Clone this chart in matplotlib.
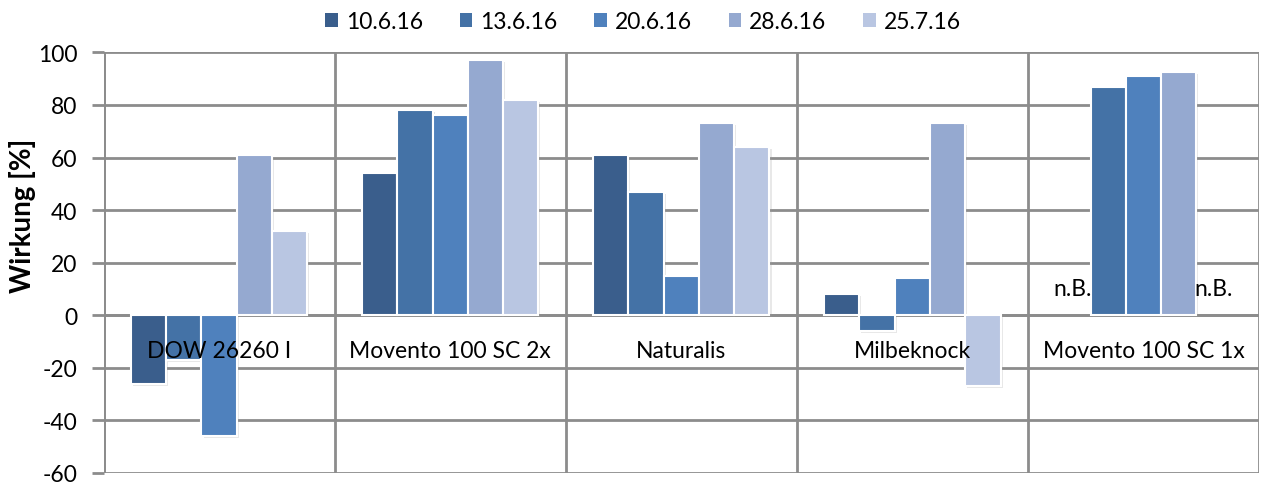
import numpy as np
import matplotlib
matplotlib.use("Agg")
import matplotlib.pyplot as plt
from matplotlib.patches import Patch
import matplotlib.patheffects as pe

plt.rcParams['font.family'] = ['Lato', 'DejaVu Sans']
plt.rcParams['axes.unicode_minus'] = False

categories = ["DOW 26260 I", "Movento 100 SC 2x", "Naturalis", "Milbeknock", "Movento 100 SC 1x"]
dates = ["10.6.16", "13.6.16", "20.6.16", "28.6.16", "25.7.16"]
nan = np.nan
wirkung_10_6 = [-26, 54, 61, 8, nan]
wirkung_13_6 = [-17, 78, 47, -6, 87]
wirkung_20_6 = [-46, 76, 15, 14, 91]
wirkung_28_6 = [61, 97, 73, 73, 92.5]
wirkung_25_7 = [32, 82, 64, -27, nan]
series = [wirkung_10_6, wirkung_13_6, wirkung_20_6, wirkung_28_6, wirkung_25_7]
colors = ["#3A5E8C", "#4472A6", "#4F81BD", "#95A9D0", "#B9C6E2"]
missing_label = "n.B."

fs = 16.5

fig = plt.figure(figsize=(12.61, 4.85), dpi=100)
ax = fig.add_axes([0.0821, 0.0227, 0.9163, 0.8673])

x = np.arange(len(categories))
width = 0.1527
grid_col = "#8C8C8C"
shadow = [pe.SimplePatchShadow(offset=(1.5, -1.5), shadow_rgbFace="#999999", alpha=0.22), pe.Normal()]

for i, (vals, col) in enumerate(zip(series, colors)):
    pos = x + (i - 2) * width
    v = np.array(vals, dtype=float)
    bars = ax.bar(pos, np.nan_to_num(v), width, color=col, edgecolor="white",
                  linewidth=1.5, zorder=3)
    for b, val in zip(bars, v):
        if np.isnan(val):
            b.set_visible(False)
            ax.text(b.get_x() + width / 2, 10, missing_label, ha="center", va="center",
                    fontsize=fs, color="black", zorder=4)
        else:
            b.set_path_effects(shadow)

ax.set_xlim(-0.5, len(categories) - 0.5)
ax.set_ylim(-60, 100)
ax.set_yticks(np.arange(-60, 101, 20))
ax.set_xticks(np.arange(-0.5, len(categories), 1.0))
ax.set_xticklabels([])
ax.tick_params(axis="x", length=0)
ax.tick_params(axis="y", length=9, width=2, color=grid_col, labelsize=fs, pad=10)
ax.grid(True, color=grid_col, linewidth=2, zorder=0)
ax.set_axisbelow(True)
for s in ax.spines.values():
    s.set_visible(False)
ax.axvline(-0.5, color=grid_col, linewidth=2, zorder=1)
ax.axhline(0, color=grid_col, linewidth=2, zorder=1)

for xi, name in zip(x, categories):
    ax.text(xi, -13.4, name, ha="center", va="center", fontsize=fs, color="black", zorder=5)

fig.text(0.0175, 0.555, "Wirkung [%]", rotation=90, ha="center", va="center",
         fontsize=20, fontweight="bold")

handles = [Patch(facecolor=c, edgecolor="none") for c in colors]
fig.legend(handles, dates, loc="center", bbox_to_anchor=(0.51, 0.953), ncol=5,
           frameon=False, fontsize=fs, handlelength=0.55, handleheight=0.55,
           handletextpad=0.35, columnspacing=1.6)

fig.savefig("out.png", dpi=100)
